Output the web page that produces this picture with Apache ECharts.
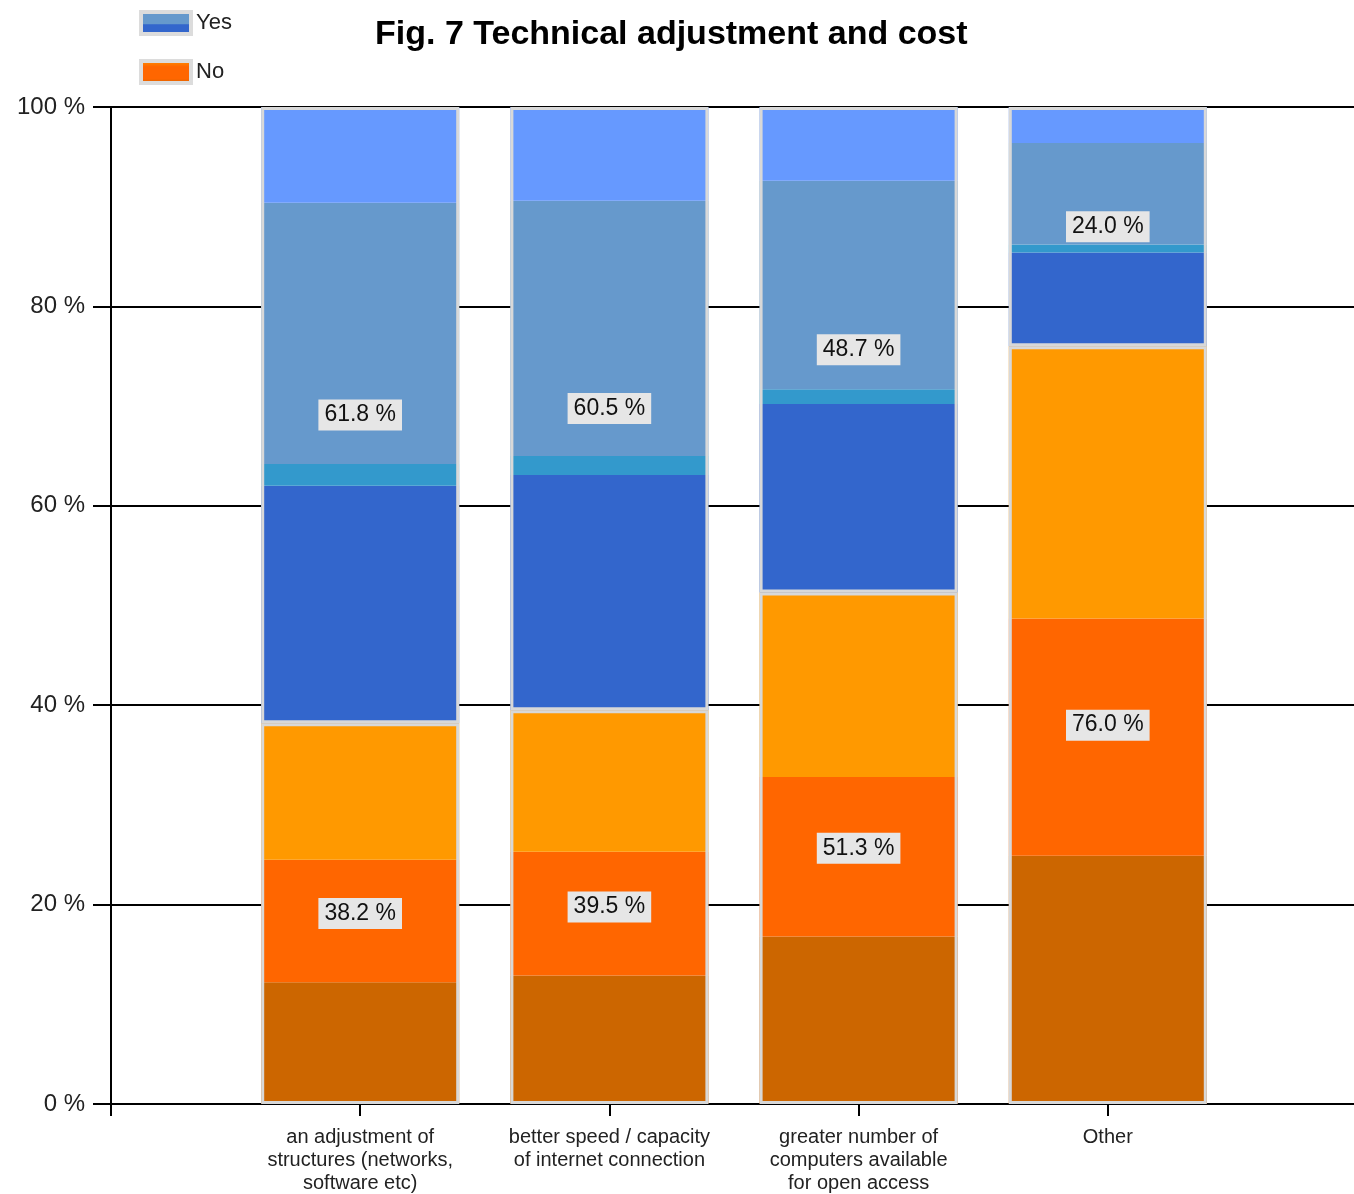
<!DOCTYPE html>
<html>
<head>
<meta charset="utf-8">
<script src="https://cdn.jsdelivr.net/npm/echarts@6/dist/echarts.min.js"></script>
<style>
html,body{margin:0;padding:0;background:#fff;}
#chart{width:1354px;height:1194px;}
</style>
</head>
<body>
<div id="chart"></div>
<script>
var categories = [
    "an adjustment of\nstructures (networks,\nsoftware etc)",
    "better speed / capacity\nof internet connection",
    "greater number of\ncomputers available\nfor open access",
    "Other"
];
// No segments, bottom to top
var noDark = [12.2, 12.9, 16.8, 24.9];
var noMid = [12.3, 12.4, 16.0, 23.8];
var noLight = [13.7, 14.2, 18.5, 27.3];
// Yes segments, bottom to top
var yesDark = [23.8, 23.6, 18.9, 9.4];
var yesCyan = [2.2, 1.9, 1.5, 0.8];
var yesSteel = [26.2, 25.6, 20.9, 10.2];
var yesLight = [9.6, 9.4, 7.4, 3.6];
// totals shown in the labels
var noTotal = [38.2, 39.5, 51.3, 76.0];
var yesTotal = [61.8, 60.5, 48.7, 24.0];

var dom = document.getElementById("chart");
var myChart = echarts.init(dom);

// empty slot at both ends, bars sit on the ticks 1..4
function pad(arr) {
    return ['-'].concat(arr).concat(['-']);
}
var axisCats = [''].concat(categories).concat(['']);

function seg(name, data, color) {
    return {
        name: name,
        type: 'bar',
        stack: 'seg',
        barWidth: 198,
        barGap: '-100%',
        itemStyle: {color: color},
        emphasis: {disabled: true},
        data: pad(data)
    };
}
function outline(name, data) {
    return {
        name: name,
        type: 'bar',
        stack: 'outline',
        barWidth: 198,
        barGap: '-100%',
        z: 3,
        itemStyle: {color: 'rgba(0,0,0,0)', borderColor: '#d8d8d8', borderWidth: 3},
        label: {
            show: true,
            position: 'inside',
            formatter: function (p) { return p.value.toFixed(1) + ' %'; },
            fontFamily: 'Liberation Sans',
            fontSize: 23,
            color: '#111',
            backgroundColor: '#e6e6e6',
            padding: [5, 6, 3, 6]
        },
        emphasis: {disabled: true},
        data: pad(data)
    };
}

var option = {
    animation: false,
    title: {
        text: 'Fig. 7 Technical adjustment and cost',
        left: 370,
        top: 13,
        textStyle: {fontFamily: 'Liberation Sans', fontSize: 34, fontWeight: 'bold', color: '#000'}
    },
    legend: {
        orient: 'vertical',
        left: 134,
        top: 5,
        icon: 'rect',
        itemWidth: 50,
        itemHeight: 22,
        itemGap: 23,
        selectedMode: false,
        textStyle: {fontFamily: 'Liberation Sans', fontSize: 22, color: '#222'},
        data: [
            {name: 'Yes', itemStyle: {
                color: {type: 'linear', x: 0, y: 0, x2: 0, y2: 1, colorStops: [
                    {offset: 0, color: '#6699cc'}, {offset: 0.55, color: '#6699cc'},
                    {offset: 0.56, color: '#3366cc'}, {offset: 1, color: '#3366cc'}]},
                borderColor: '#dcdcdc', borderWidth: 4}},
            {name: 'No', itemStyle: {
                color: {type: 'linear', x: 0, y: 0, x2: 0, y2: 1, colorStops: [
                    {offset: 0, color: '#ff9900'}, {offset: 0.3, color: '#ff6600'},
                    {offset: 0.75, color: '#ff6600'}, {offset: 1, color: '#cc6600'}]},
                borderColor: '#dcdcdc', borderWidth: 4}}
        ]
    },
    grid: {left: 111, width: 1246, top: 107, height: 997, containLabel: false, outerBoundsMode: 'none'},
    xAxis: {
        type: 'category',
        boundaryGap: false,
        data: axisCats,
        axisLine: {lineStyle: {color: '#000', width: 2}},
        axisTick: {length: 12, lineStyle: {color: '#000', width: 2}},
        axisLabel: {
            interval: 0,
            margin: 22,
            fontFamily: 'Liberation Sans',
            fontSize: 20,
            lineHeight: 23,
            color: '#222'
        },
        splitLine: {show: false}
    },
    yAxis: {
        type: 'value',
        min: 0,
        max: 100,
        interval: 20,
        axisLine: {show: true, lineStyle: {color: '#000', width: 2}},
        axisTick: {show: true, length: 18, lineStyle: {color: '#000', width: 2}},
        axisLabel: {
            formatter: '{value} %',
            margin: 26,
            fontFamily: 'Liberation Sans',
            fontSize: 24,
            color: '#222'
        },
        splitLine: {show: true, lineStyle: {color: '#000', width: 2}}
    },
    series: [
        seg('No dark', noDark, '#cc6600'),
        seg('No mid', noMid, '#ff6600'),
        seg('No light', noLight, '#ff9900'),
        seg('Yes dark', yesDark, '#3366cc'),
        seg('Yes cyan', yesCyan, '#3399cc'),
        seg('Yes steel', yesSteel, '#6699cc'),
        seg('Yes light', yesLight, '#6699ff'),
        outline('No', noTotal),
        outline('Yes', yesTotal)
    ]
};
myChart.setOption(option);
</script>
</body>
</html>
